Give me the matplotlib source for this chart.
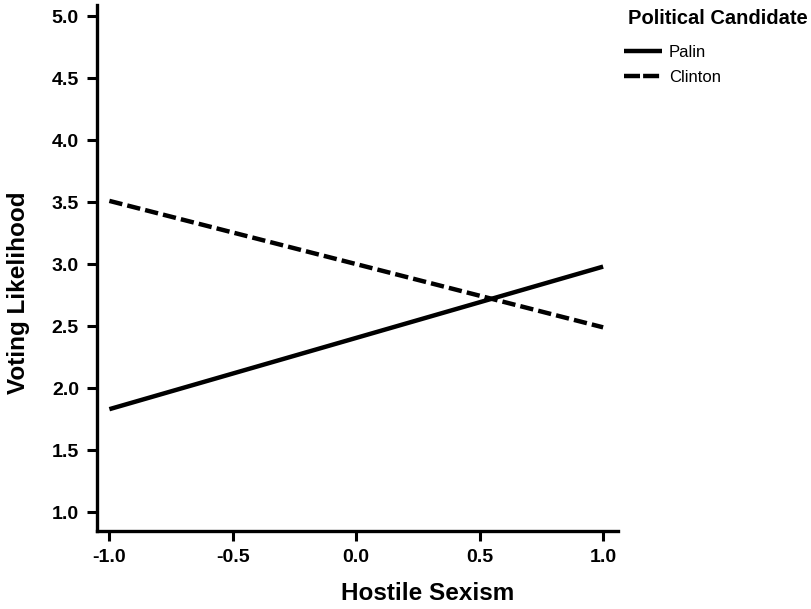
import matplotlib
matplotlib.use("Agg")
import matplotlib.pyplot as plt
from matplotlib.lines import Line2D

# simple slopes: voting likelihood by hostile sexism
hostile_sexism = [-1.0, 1.0]
palin = [1.83, 2.98]
clinton = [3.51, 2.49]

x_ticks = [-1.0, -0.5, 0.0, 0.5, 1.0]
y_ticks = [1.0, 1.5, 2.0, 2.5, 3.0, 3.5, 4.0, 4.5, 5.0]

plt.rcParams['font.family'] = ['Liberation Sans', 'DejaVu Sans']

fig = plt.figure(figsize=(8.12, 6.09), dpi=100)
ax = fig.add_axes([0.1195, 0.1286, 0.6415, 0.8632])

ax.plot(hostile_sexism, palin, color='black', lw=3.2, solid_capstyle='butt')
ax.plot(hostile_sexism, clinton, color='black', lw=3.2, dashes=(3.0, 1.15))

ax.set_xlim(-1.05, 1.06)
ax.set_ylim(0.85, 5.09)
ax.set_xticks(x_ticks)
ax.set_yticks(y_ticks)
ax.set_xticklabels([f"{v:.1f}" for v in x_ticks])
ax.set_yticklabels([f"{v:.1f}" for v in y_ticks])
ax.tick_params(length=7, width=2.2, labelsize=14, pad=6)
for lab in ax.get_xticklabels() + ax.get_yticklabels():
    lab.set_fontweight('bold')

for side in ['top', 'right']:
    ax.spines[side].set_visible(False)
for side in ['left', 'bottom']:
    ax.spines[side].set_linewidth(2.4)

# axis titles sit where the original put them (not centred on the axes)
fig.text(428 / 812, 1 - 594 / 609, 'Hostile Sexism', fontsize=17.5, fontweight='bold',
         ha='center', va='center')
fig.text(19 / 812, 1 - 293 / 609, 'Voting Likelihood', fontsize=17.5, fontweight='bold',
         ha='center', va='center', rotation=90)

# legend: title drawn separately so the gap to the entries matches
fig.text(628 / 812, 1 - 19 / 609, 'Political Candidate', fontsize=14.5, fontweight='bold',
         ha='left', va='center')
handles = [Line2D([], [], color='black', lw=3.2, solid_capstyle='butt'),
           Line2D([], [], color='black', lw=3.2, dashes=(3.6, 0.7))]
leg = fig.legend(handles, ['Palin', 'Clinton'],
                 loc='upper left', bbox_to_anchor=(624 / 812, 1 - 45 / 609),
                 frameon=False, fontsize=12, handlelength=2.3, handletextpad=0.4,
                 labelspacing=0.6, borderpad=0.0, borderaxespad=0.0)

fig.savefig('out.png', dpi=100)
